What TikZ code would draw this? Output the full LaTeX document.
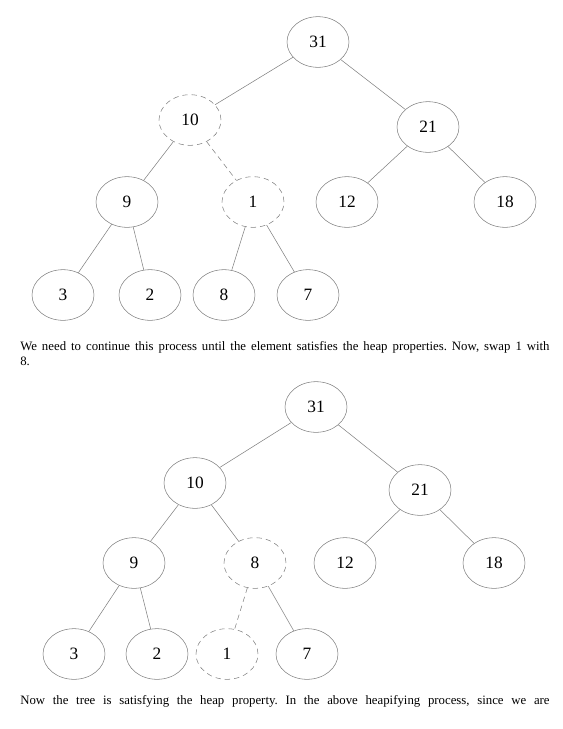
\documentclass[tikz,border=0pt]{standalone}
\usepackage{fontspec}
\setmainfont{Liberation Serif}
\usetikzlibrary{shapes.geometric}

\tikzset{hnode/.style={ellipse,draw=gray,minimum width=46.5pt,minimum height=38pt,
                       inner sep=0pt,font=\fontsize{13}{15}\selectfont},
         swapnode/.style={hnode,dash pattern=on 4pt off 3pt},
         link/.style={draw=gray,thin},
         swaplink/.style={link,dash pattern=on 4pt off 3pt},
         para/.style={anchor=base west,inner sep=0pt,text width=397pt,align=justify,
                      font=\fontsize{9.6}{11.25}\selectfont\frenchspacing}}

\begin{document}
\begin{tikzpicture}[x=0.75pt,y=-0.75pt]
\useasboundingbox (0,0) rectangle (563,729);

% first tree
\node[hnode]    (a31) at (318,42)  {31};
\node[swapnode] (a10) at (190,120) {10};
\node[hnode]    (a21) at (428,127) {21};
\node[hnode]    (a9)  at (127,202) {9};
\node[swapnode] (a1)  at (253,202) {1};
\node[hnode]    (a12) at (347,202) {12};
\node[hnode]    (a18) at (505,202) {18};
\foreach \n/\x in {3/63,2/150,8/224,7/308}
  \node[hnode] (a\n) at (\x,295) {\n};

\foreach \p/\c in {a31/a10,a31/a21,a10/a9,a21/a12,a21/a18,a9/a3,a9/a2,a1/a8,a1/a7}
  \draw[link] (\p) -- (\c);
\draw[swaplink] (a10) -- (a1);

\node[para] (txt1) at (20,350) {We need to continue this process until the element satisfies the heap properties. Now, swap 1 with\linebreak 8.};

% second tree
\node[hnode]    (b31) at (316,407) {31};
\node[hnode]    (b10) at (195,483) {10};
\node[hnode]    (b21) at (420,490) {21};
\node[hnode]    (b9)  at (134,563) {9};
\node[swapnode] (b8)  at (255,563) {8};
\node[hnode]    (b12) at (345,563) {12};
\node[hnode]    (b18) at (494,563) {18};
\node[hnode]    (b3)  at (74,654)  {3};
\node[hnode]    (b2)  at (157,654) {2};
\node[swapnode] (b1)  at (227,654) {1};
\node[hnode]    (b7)  at (307,654) {7};

\foreach \p/\c in {b31/b10,b31/b21,b10/b9,b10/b8,b21/b12,b21/b18,b9/b3,b9/b2,b8/b7}
  \draw[link] (\p) -- (\c);
\draw[swaplink] (b8) -- (b1);

\node[para] (txt2) at (20,704) {Now the tree is satisfying the heap property. In the above heapifying process, since we are\linebreak};
\end{tikzpicture}
\end{document}
